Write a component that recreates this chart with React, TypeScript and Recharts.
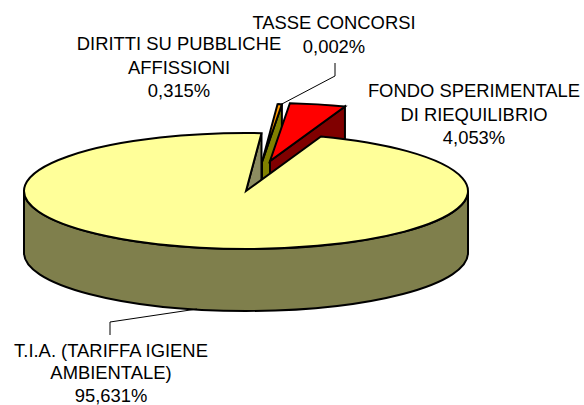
import { PieChart, Pie } from "recharts";

const NAMES = ["TASSE CONCORSI", "DIRITTI SU PUBBLICHE AFFISSIONI", "FONDO SPERIMENTALE DI RIEQUILIBRIO", "T.I.A. (TARIFFA IGIENE AMBIENTALE)"];
const VALUES = [0.002, 0.315, 4.053, 95.631];
const PERCENT_LABELS = ["0,002%", "0,315%", "4,053%", "95,631%"];
const LABEL_LINES = [
  ["TASSE CONCORSI", "0,002%"],
  ["DIRITTI SU PUBBLICHE", "AFFISSIONI", "0,315%"],
  ["FONDO SPERIMENTALE", "DI RIEQUILIBRIO", "4,053%"],
  ["T.I.A. (TARIFFA IGIENE", "AMBIENTALE)", "95,631%"],
];

const TOP_COLORS = ["#FF9900", "#FF9900", "#FF0000", "#FFFF99"];
const WALL_COLORS = ["#808000", "#808000", "#800000", "#8C8C60"];
const FRONT_COLOR = "#7F7F4C";

// how far each slice is pulled out of the pie, in px
const SHIFT_X = [17, 16, 24, 0];
const SHIFT_Y = [-29, -29, -30, 0];

const LABEL_X = [334, 179, 474, 111];
const LABEL_Y = [29, 50, 97, 356.5];
const LINE_STEP = [23.6, 23.6, 23.6, 22.6];
const LEADERS = ["M335 63V76L280 105", "", "", "M110 335V322L197 309"];

const SQUASH = 0.261;
const DEPTH = 62;
const rad = (a: number) => (a * Math.PI) / 180;

function SliceShape(props: any) {
  const { cx, cy, outerRadius, startAngle, endAngle, index } = props;
  const rx = outerRadius;
  const ry = outerRadius * SQUASH;
  const x0 = cx + SHIFT_X[index];
  const y0 = cy + SHIFT_Y[index];
  const px = (a: number) => x0 + rx * Math.cos(rad(a));
  const py = (a: number) => y0 - ry * Math.sin(rad(a));
  const large = Math.abs(startAngle - endAngle) > 180 ? 1 : 0;
  const top = `M${x0} ${y0}L${px(startAngle)} ${py(startAngle)}A${rx} ${ry} 0 ${large} 1 ${px(endAngle)} ${py(endAngle)}Z`;
  const cut = `M${x0} ${y0}L${px(endAngle)} ${py(endAngle)}v${DEPTH}L${x0} ${y0 + DEPTH}Z`;
  const hasFront = Math.min(startAngle, endAngle) <= -180;
  const front = `M${x0 - rx} ${y0}v${DEPTH}A${rx} ${ry} 0 0 0 ${x0 + rx} ${y0 + DEPTH}V${y0}A${rx} ${ry} 0 0 1 ${x0 - rx} ${y0}Z`;
  const line = { stroke: "#000", strokeWidth: 2, strokeLinejoin: "miter" as const };
  return (
    <g>
      <path d={cut} fill={WALL_COLORS[index]} {...line} />
      {hasFront && <path d={front} fill={FRONT_COLOR} {...line} />}
      <path d={top} fill={TOP_COLORS[index]} {...line} />
    </g>
  );
}

function SliceLabel(props: any) {
  const { index } = props;
  return (
    <g>
      {LEADERS[index] && <path d={LEADERS[index]} fill="none" stroke="#000" strokeWidth={1} />}
      <text
        x={LABEL_X[index]}
        y={LABEL_Y[index]}
        textAnchor="middle"
        fontFamily="'Liberation Sans', Arial, sans-serif"
        fontSize={18.4}
        fill="#000"
      >
        {LABEL_LINES[index].map((t, i) => (
          <tspan key={t} x={LABEL_X[index]} dy={i === 0 ? 0 : LINE_STEP[index]}>
            {t}
          </tspan>
        ))}
      </text>
    </g>
  );
}

const data = NAMES.map((name, i) => ({ name, value: VALUES[i], label: PERCENT_LABELS[i] }));

export default function App() {
  return (
    <div style={{ position: "absolute", left: 0, top: 0, background: "#fff" }}>
      <PieChart width={584} height={405} margin={{ top: 0, right: 0, bottom: 0, left: 0 }}>
        <Pie
          data={data}
          dataKey="value"
          cx={246}
          cy={191}
          outerRadius={222}
          startAngle={86}
          endAngle={-274}
          shape={SliceShape}
          label={SliceLabel}
          labelLine={false}
          stroke="none"
          isAnimationActive={false}
        />
      </PieChart>
    </div>
  );
}
